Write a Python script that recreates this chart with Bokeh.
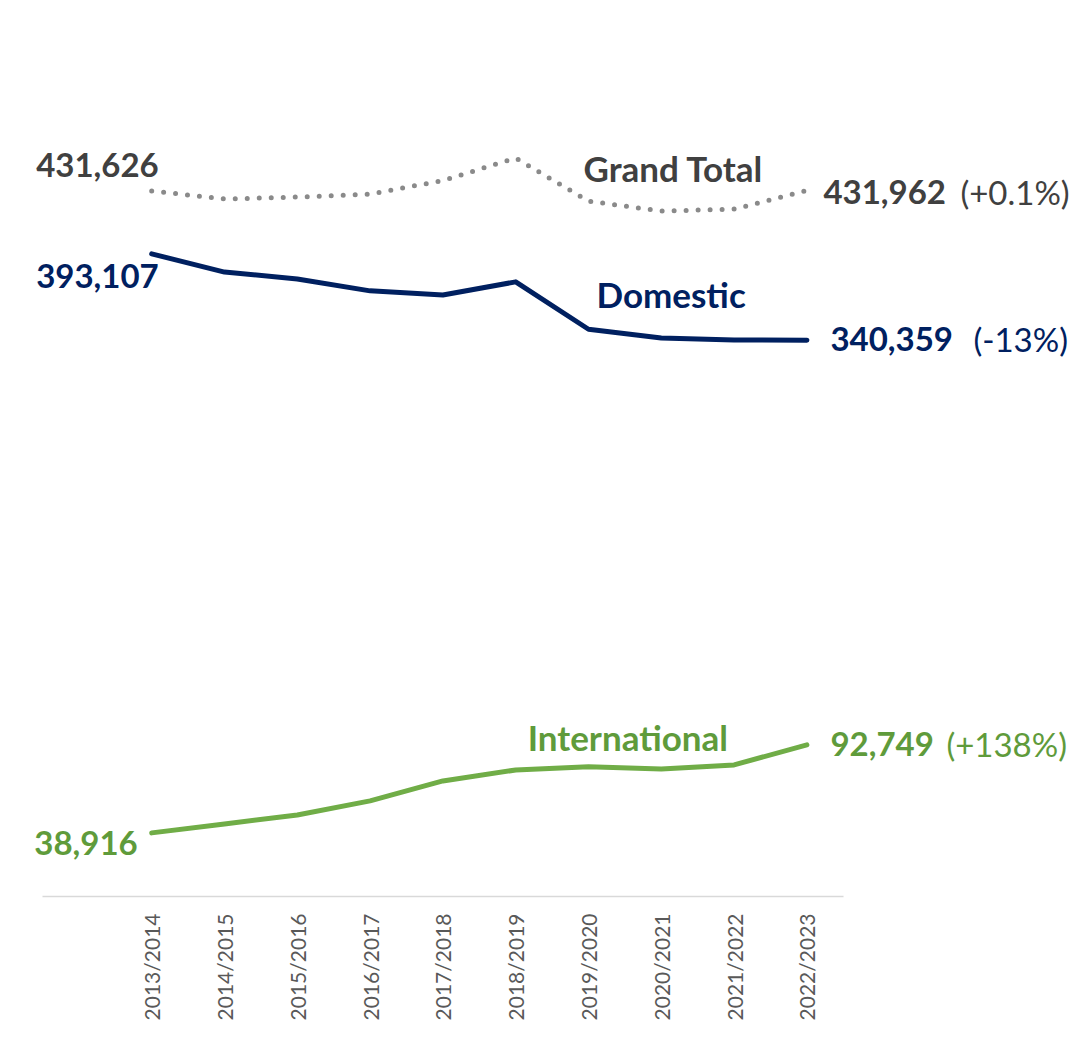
from bokeh.plotting import figure
from bokeh.models import Range1d, FixedTicker, Label, ColumnDataSource
from bokeh.embed import file_html
from bokeh.resources import INLINE
import math

years = ["2013/2014", "2014/2015", "2015/2016", "2016/2017", "2017/2018",
         "2018/2019", "2019/2020", "2020/2021", "2021/2022", "2022/2023"]
grand_total = [431626, 426700, 427900, 429700, 438000, 451700, 425400, 419300, 420500, 431962]
domestic = [393107, 382000, 377800, 370500, 368000, 376000, 347000, 341700, 340400, 340359]
international = [38916, 44400, 49900, 58500, 70700, 77400, 79300, 78000, 80500, 92749]
pct_labels = {"grand": "(+0.1%)", "dom": "(-13%)", "intl": "(+138%)"}

GT_TEXT = "#404040"
GT_LINE = "#8a8a8a"
NAVY = "#002060"
GREEN_LINE = "#70ad47"
GREEN_TEXT = "#5f9b3b"
FONT = "Lato"

xs = list(range(len(years)))

p = figure(width=1071, height=1050, output_backend="svg", toolbar_location=None,
           x_range=Range1d(-2.077, 12.635), y_range=Range1d(0, 520600),
           min_border_left=0, min_border_right=0, min_border_top=45, min_border_bottom=154)
p.outline_line_color = None
p.grid.visible = False
p.yaxis.visible = False
p.background_fill_color = "white"
p.border_fill_color = "white"

ax = p.xaxis[0]
ax.ticker = FixedTicker(ticks=xs)
ax.bounds = (-1.5, 9.5)
ax.major_label_overrides = {i: y for i, y in enumerate(years)}
ax.major_label_orientation = math.pi / 2
ax.major_tick_line_color = None
ax.minor_tick_line_color = None
ax.axis_line_color = "#d9d9d9"
ax.axis_line_width = 1.5
ax.major_label_text_font = FONT
ax.major_label_text_font_size = "21px"
ax.major_label_text_color = "#595959"
ax.major_label_standoff = 11

src = ColumnDataSource(dict(x=xs, gt=grand_total, dom=domestic, intl=international))
p.line("x", "gt", source=src, line_color=GT_LINE, line_width=5, line_dash="0 12", line_cap="round")
p.line("x", "dom", source=src, line_color=NAVY, line_width=5, line_cap="round", line_join="round")
p.line("x", "intl", source=src, line_color=GREEN_LINE, line_width=5, line_cap="round", line_join="round")

DY = 14


def lab(x, y, text, color, xo, yo, align="left", bold=True, size="33px"):
    p.add_layout(Label(x=x, y=y, text=text, x_offset=xo, y_offset=yo + DY,
                       text_align=align, text_baseline="alphabetic",
                       text_color=color, text_font=FONT, text_font_size=size,
                       text_font_style="bold" if bold else "normal"))


n = len(years) - 1
# start values
lab(0, grand_total[0], f"{grand_total[0]:,}", GT_TEXT, 7, 12, align="right")
lab(0, domestic[0], f"{domestic[0]:,}", NAVY, 7, -36, align="right")
lab(0, international[0], f"{international[0]:,}", GREEN_TEXT, -14, -24, align="right")
# series names
lab(6, grand_total[6], "Grand Total", GT_TEXT, -5, 19, size="35px")
lab(6, domestic[6], "Domestic", NAVY, 8, 21, size="35px")
lab(5, international[5], "International", GREEN_TEXT, 12, 19, size="35px")
# end values
lab(n, grand_total[n], f"{grand_total[n]:,}", GT_TEXT, 16.5, -16)
lab(n, grand_total[n], pct_labels["grand"], GT_TEXT, 153.5, -16, bold=False, size="33px")
lab(n, domestic[n], f"{domestic[n]:,}", NAVY, 23.5, -13)
lab(n, domestic[n], pct_labels["dom"], NAVY, 166.5, -13, bold=False, size="33px")
lab(n, international[n], f"{international[n]:,}", GREEN_TEXT, 23.5, -13)
lab(n, international[n], pct_labels["intl"], GREEN_TEXT, 139.5, -13, bold=False, size="33px")

open("out.html", "w").write(file_html(p, INLINE))
